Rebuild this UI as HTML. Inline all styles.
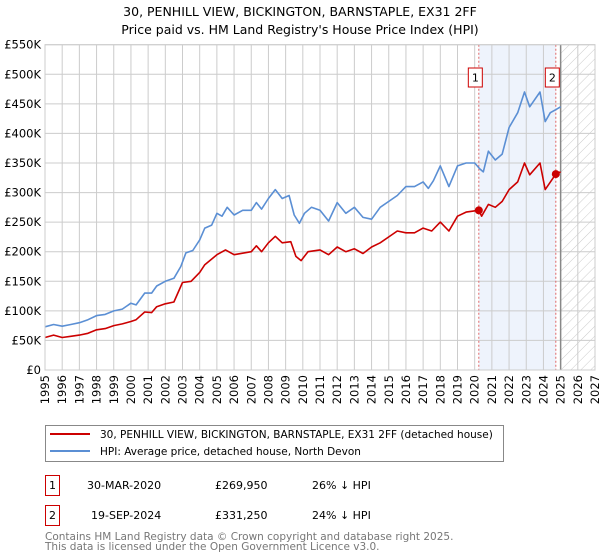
<!DOCTYPE html>
<html><head><meta charset="utf-8"><style>
body{margin:0;background:#fff;font-family:"DejaVu Sans","Liberation Sans",sans-serif;}
svg{display:block}
</style></head><body>
<svg id="c" width="600" height="560" xmlns="http://www.w3.org/2000/svg" font-family="DejaVu Sans, Liberation Sans, sans-serif">
<defs><pattern id="hatch" width="7" height="7" patternUnits="userSpaceOnUse" patternTransform="rotate(45)"><line x1="0" y1="0" x2="0" y2="7" stroke="#ccc" stroke-width="1"/></pattern></defs>
<text x="300" y="16" text-anchor="middle" font-size="12.5">30, PENHILL VIEW, BICKINGTON, BARNSTAPLE, EX31 2FF</text>
<text x="300" y="34" text-anchor="middle" font-size="12.5">Price paid vs. HM Land Registry's House Price Index (HPI)</text>
<g id="plot"></g>
<g>
<rect x="45.5" y="425.5" width="458" height="36" fill="#fff" stroke="#888"/>
<line x1="50" y1="434" x2="90" y2="434" stroke="#cc0000" stroke-width="2"/>
<text x="100" y="438" font-size="10.5">30, PENHILL VIEW, BICKINGTON, BARNSTAPLE, EX31 2FF (detached house)</text>
<line x1="50" y1="451" x2="90" y2="451" stroke="#5b8fd4" stroke-width="2"/>
<text x="100" y="455" font-size="10.5">HPI: Average price, detached house, North Devon</text>
</g>
<g font-size="11">
<rect x="45.5" y="475.5" width="14" height="20" fill="#fff" stroke="#cc0000"/>
<text x="52.5" y="489" text-anchor="middle">1</text>
<text x="87" y="489">30-MAR-2020</text><text x="215" y="489">£269,950</text><text x="312" y="489">26% ↓ HPI</text>
<rect x="45.5" y="505.5" width="14" height="20" fill="#fff" stroke="#cc0000"/>
<text x="52.5" y="519" text-anchor="middle">2</text>
<text x="91" y="519">19-SEP-2024</text><text x="215" y="519">£331,250</text><text x="312" y="519">24% ↓ HPI</text>
</g>
<text x="45" y="540" font-size="10.5" fill="#777">Contains HM Land Registry data © Crown copyright and database right 2025.</text>
<text x="45" y="550" font-size="10.5" fill="#777">This data is licensed under the Open Government Licence v3.0.</text>
</svg>
<script>
const hpiT=[1995,1995.5,1996,1996.5,1997,1997.5,1998,1998.5,1999,1999.5,2000,2000.3,2000.8,2001.2,2001.5,2002,2002.5,2002.9,2003.2,2003.6,2004,2004.3,2004.7,2005,2005.3,2005.6,2006,2006.5,2007,2007.3,2007.6,2008,2008.4,2008.8,2009.2,2009.5,2009.8,2010.1,2010.5,2011,2011.5,2012,2012.5,2013,2013.5,2014,2014.5,2015,2015.5,2016,2016.5,2017,2017.3,2017.6,2018,2018.5,2019,2019.5,2020,2020.3,2020.5,2020.8,2021.2,2021.6,2022,2022.5,2022.9,2023.2,2023.8,2024.1,2024.4,2024.7,2025];
const hpiV=[73,77,74,77,80,85,92,94,100,103,113,110,130,130,142,150,155,175,198,202,220,240,245,265,260,275,262,270,270,283,272,290,305,290,295,262,248,265,275,270,252,283,265,275,258,255,275,285,295,310,310,318,307,320,345,310,345,350,350,340,335,370,355,365,410,435,470,445,470,420,435,440,445];
const ppT=[1995,1995.5,1996,1996.5,1997,1997.5,1998,1998.5,1999,1999.5,2000,2000.3,2000.8,2001.2,2001.5,2002,2002.5,2003,2003.5,2004,2004.3,2005,2005.5,2006,2007,2007.3,2007.6,2008,2008.4,2008.8,2009.3,2009.6,2009.9,2010.3,2011,2011.5,2012,2012.5,2013,2013.5,2014,2014.5,2015,2015.5,2016,2016.5,2017,2017.5,2018,2018.5,2019,2019.5,2020.24,2020.4,2020.8,2021.2,2021.6,2022,2022.5,2022.9,2023.2,2023.8,2024.1,2024.72,2025];
const ppV=[55,59,55,57,59,62,68,70,75,78,82,85,98,97,107,112,115,148,150,165,178,195,203,195,200,210,200,215,226,215,217,192,185,200,203,195,208,200,205,197,208,215,225,235,232,232,240,235,250,235,260,267,269.95,260,280,275,285,305,318,350,330,350,305,331.25,335];
const saleT=[2020.24,2024.72];
const saleV=[269.95,331.25];
const saleLbl=["1","2"];
const yTicks=[0,50,100,150,200,250,300,350,400,450,500,550];
const yLbls=["£0","£50K","£100K","£150K","£200K","£250K","£300K","£350K","£400K","£450K","£500K","£550K"];
const xTicks=[1995,1996,1997,1998,1999,2000,2001,2002,2003,2004,2005,2006,2007,2008,2009,2010,2011,2012,2013,2014,2015,2016,2017,2018,2019,2020,2021,2022,2023,2024,2025,2026,2027];
const X0=45,X1=595,Y0=370,Y1=44.7;
const sx=t=>X0+(t-1995)/(2027-1995)*(X1-X0);
const sy=v=>Y0-v/550*(Y0-Y1);
const NS="http://www.w3.org/2000/svg";
const g=document.getElementById('plot');
function mk(tag,a,p){const e=document.createElementNS(NS,tag);for(const k in a)e.setAttribute(k,a[k]);(p||g).appendChild(e);return e;}
let e=mk('rect',{x:sx(saleT[0]),y:Y1,width:sx(saleT[1])-sx(saleT[0]),height:Y0-Y1,fill:'#eef3fc'});


e=mk('rect',{x:sx(2025),y:Y1,width:sx(2027)-sx(2025),height:Y0-Y1,fill:'url(#hatch)'});


yTicks.forEach((v,i)=>{
 e=mk('line',{x1:X0,x2:X1,y1:sy(v),y2:sy(v),stroke:'#ccc','stroke-width':1});
 
 
 e=mk('text',{x:X0-4,y:sy(v)+4,'text-anchor':'end','font-size':'11.5'});e.textContent=yLbls[i];
 
 
});
xTicks.forEach(t=>{
 e=mk('line',{x1:sx(t),x2:sx(t),y1:Y1,y2:Y0,stroke:'#ccc','stroke-width':1});
 
 
 e=mk('text',{x:0,y:0,'text-anchor':'end','font-size':'11.5',transform:`translate(${sx(t)+4},${Y0+5}) rotate(-90)`});e.textContent=t;
 
 
});
e=mk('line',{x1:sx(2025),x2:sx(2025),y1:Y1,y2:Y0,stroke:'#888','stroke-width':1.5});


saleT.forEach((t,i)=>{
 e=mk('line',{x1:sx(t),x2:sx(t),y1:Y1,y2:Y0,stroke:'#e06666','stroke-width':1,'stroke-dasharray':'2,2'});
 
 
});
function line(T,V,c,name){
 const d=T.map((t,i)=>(i?'L':'M')+sx(t).toFixed(1)+','+sy(V[i]).toFixed(1)).join('');
 const p=mk('path',{d:d,fill:'none',stroke:c,'stroke-width':1.6,'stroke-linejoin':'round'});
 
 
}
line(hpiT,hpiV,'#5b8fd4','hpi-line');
line(ppT,ppV,'#cc0000','price-paid-line');
saleT.forEach((t,i)=>{
 e=mk('circle',{cx:sx(t),cy:sy(saleV[i]),r:4,fill:'#cc0000'});
 
 
 e=mk('rect',{x:sx(t)-10.5,y:68,width:14,height:19,fill:'#fff',stroke:'#cc0000'});
 
 
 e=mk('text',{x:sx(t)-3.5,y:81.5,'text-anchor':'middle','font-size':'11'});e.textContent=saleLbl[i];
 
 
});
e=mk('rect',{x:X0,y:Y1,width:X1-X0,height:Y0-Y1,fill:'none',stroke:'#ccc'});


</script>
</body></html>
